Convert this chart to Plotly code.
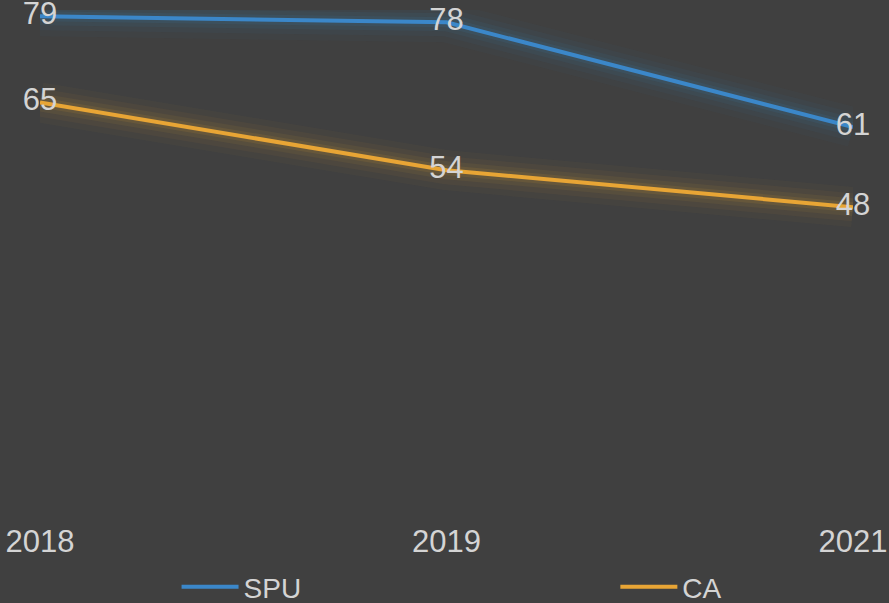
import plotly.graph_objects as go

years = ["2018", "2019", "2021"]
spu = [79, 78, 61]
ca = [65, 54, 48]

BG = "#404040"
BLUE = "#3b87c9"
ORANGE = "#e8a535"
TXT = "#d4d4d4"
FONT = "Liberation Sans, Arial, sans-serif"

fig = go.Figure()

def glow(y, rgb):
    for w, a in [(40, 0.035), (28, 0.05), (18, 0.07), (10, 0.10)]:
        fig.add_trace(go.Scatter(x=years, y=y, mode="lines",
                                 line=dict(color=f"rgba({rgb},{a})", width=w),
                                 showlegend=False, hoverinfo="skip", cliponaxis=False))

glow(spu, "59,135,201")
glow(ca, "232,165,53")

fig.add_trace(go.Scatter(x=years, y=spu, mode="lines+text", name="SPU", legend="legend",
                         line=dict(color=BLUE, width=4), cliponaxis=False,
                         text=[str(v) for v in spu], textposition="middle center",
                         textfont=dict(color=TXT, size=31, family=FONT)))
fig.add_trace(go.Scatter(x=years, y=ca, mode="lines+text", name="CA", legend="legend2",
                         line=dict(color=ORANGE, width=4), cliponaxis=False,
                         text=[str(v) for v in ca], textposition="middle center",
                         textfont=dict(color=TXT, size=31, family=FONT)))

leg = dict(orientation="h", xanchor="left", xref="container", yref="container",
           y=0.0265, yanchor="middle", itemwidth=57,
           font=dict(size=28, color=TXT, family=FONT), bgcolor="rgba(0,0,0,0)")

fig.update_layout(
    width=889, height=603,
    paper_bgcolor=BG, plot_bgcolor=BG,
    margin=dict(l=40, r=36, t=10, b=100, autoexpand=False),
    font=dict(family=FONT, color=TXT, size=28),
    showlegend=True,
    legend=dict(leg, x=0.1986),
    legend2=dict(leg, x=0.6922),
    xaxis=dict(type="category", range=[0, 2], showgrid=False, zeroline=False,
               showline=False, ticks="", ticklabelstandoff=17,
               tickfont=dict(size=31, color=TXT, family=FONT)),
    yaxis=dict(range=[0, 80], showgrid=False, zeroline=False, showline=False,
               showticklabels=False, ticks=""),
)

fig.write_html("out.html", config={"displayModeBar": False},
               post_script="document.body.style.margin='0';document.body.style.background='#404040';")
